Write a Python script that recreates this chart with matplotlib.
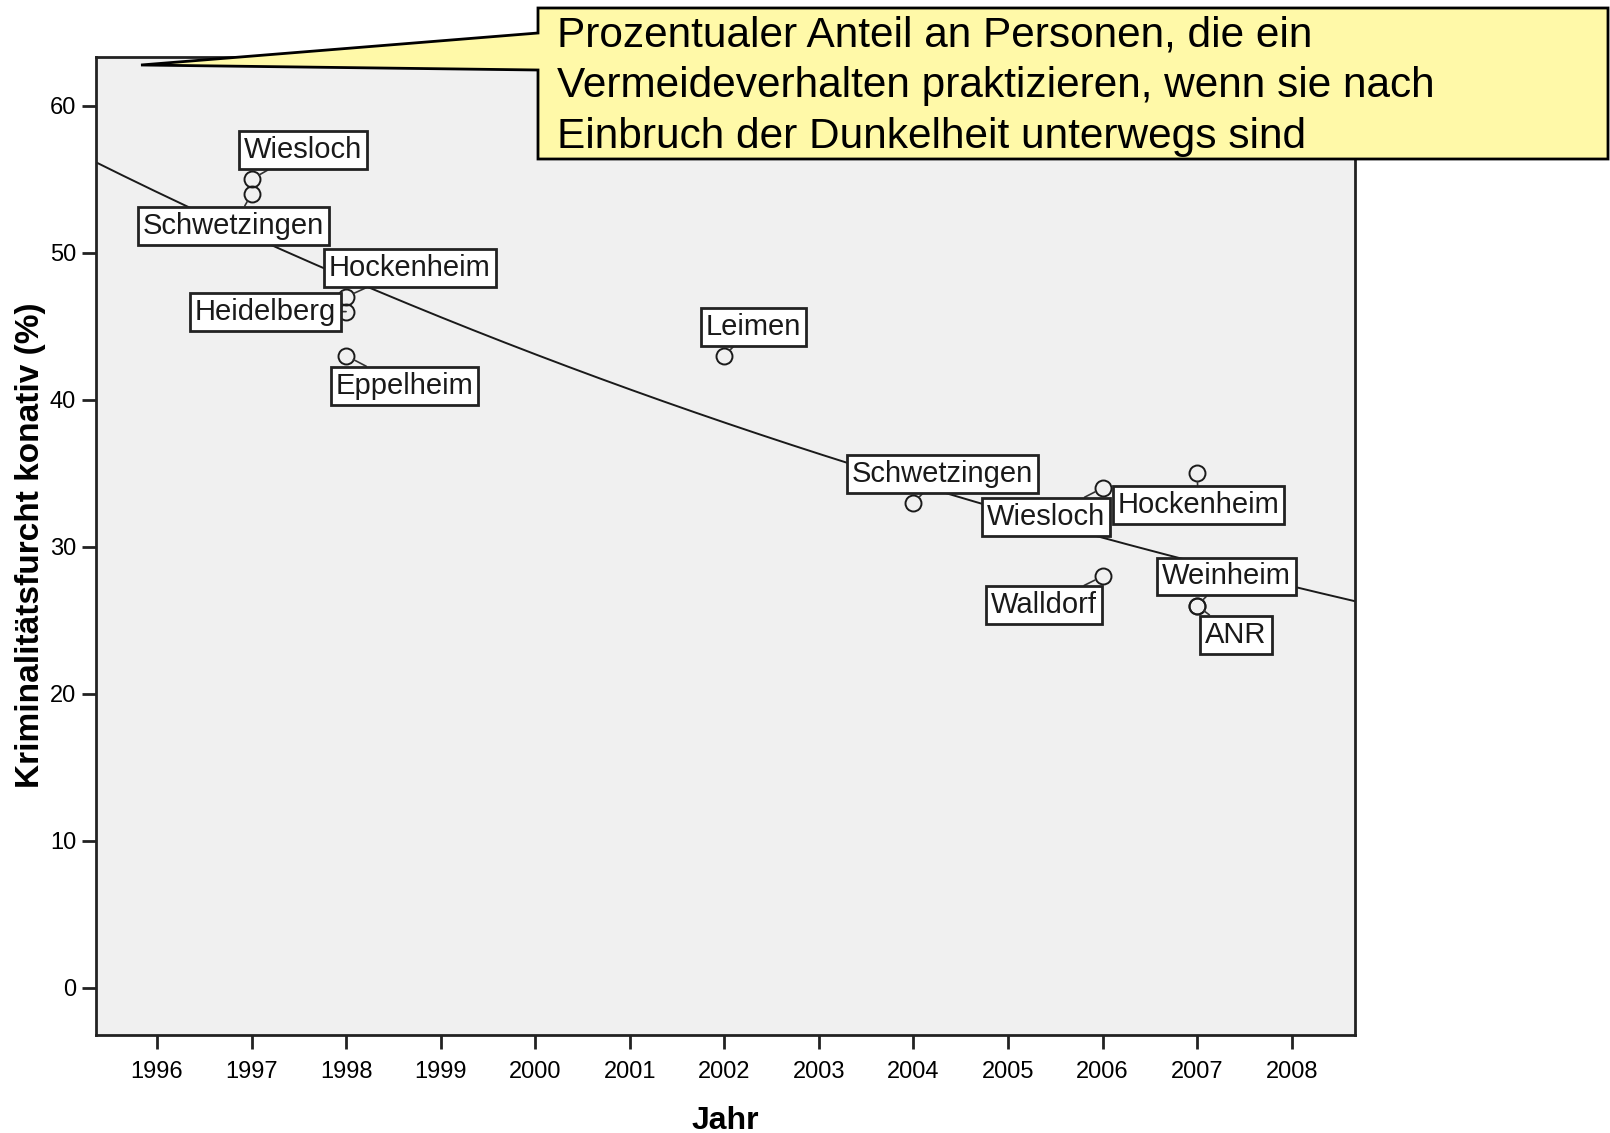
import numpy as np
import matplotlib.pyplot as plt
from matplotlib.patches import Polygon

plt.rcParams['font.family'] = ['Liberation Sans', 'DejaVu Sans']

# data
orte = ['Wiesloch', 'Schwetzingen', 'Hockenheim', 'Heidelberg', 'Eppelheim', 'Leimen',
        'Schwetzingen', 'Wiesloch', 'Walldorf', 'Hockenheim', 'Weinheim', 'ANR']
jahr = [1997, 1997, 1998, 1998, 1998, 2002, 2004, 2006, 2006, 2007, 2007, 2007]
furcht = [55, 54, 47, 46, 43, 43, 33, 34, 28, 35, 26, 26]
xticks = list(range(1996, 2009))
yticks = [0, 10, 20, 30, 40, 50, 60]

# label offsets (points) relative to each point
offsets = [(37, 21), (-13, -23), (46, 21), (-58, 0), (42, -22), (21, 21),
           (21, 21), (-41, -21), (-42, -21), (1, -23), (21, 21), (28, -21)]

W, H = 1610, 1133
fig = plt.figure(figsize=(W / 100, H / 100), dpi=100)
ax = fig.add_axes([95.5 / W, 1 - 1035 / H, (1355 - 95.5) / W, (1035 - 56.5) / H])
ax.set_facecolor('#f0f0f0')

# exponential fit
x = np.array(jahr, dtype=float)
y = np.array(furcht, dtype=float)
b, a = np.polyfit(x - 1996, np.log(y), 1)
xs = np.linspace(1995.3, 2008.7, 200)
ax.plot(xs, np.exp(a + b * (xs - 1996)), color='#1a1a1a', lw=1.4, zorder=2)

ax.plot(jahr, furcht, 'o', mfc='none', mec='#1a1a1a', ms=11.5, mew=1.4, zorder=3)

for name, xx, yy, off in zip(orte, jahr, furcht, offsets):
    ax.annotate(name, (xx, yy), xytext=off, textcoords='offset points',
                ha='center', va='center', fontsize=21, color='#1a1a1a',
                bbox=dict(boxstyle='square,pad=0.17', fc='white', ec='#222222', lw=2),
                arrowprops=dict(arrowstyle='-', color='#333333', lw=1.2, shrinkA=0, shrinkB=6),
                zorder=4)

ax.set_xlim(1995.35, 2008.67)
ax.set_ylim(-3.2, 63.35)
ax.set_xticks(xticks)
ax.set_yticks(yticks)
ax.tick_params(labelsize=17, length=10, width=2, direction='out', color='#222222')
ax.tick_params(axis='x', pad=9)
ax.tick_params(axis='y', pad=4)
for s in ax.spines.values():
    s.set_linewidth(2)
    s.set_color('#222222')
ax.set_xlabel('Jahr', fontsize=23, fontweight='bold', labelpad=16)
ax.set_ylabel('Kriminalitätsfurcht konativ (%)', fontsize=24, fontweight='bold', labelpad=3)

# callout box with pointer
pts = [(538, 8), (1608, 8), (1608, 159), (538, 159), (538, 70), (141, 65), (538, 33)]
poly = Polygon([(px / W, 1 - py / H) for px, py in pts], closed=True,
               transform=fig.transFigure, fc='#fff9a8', ec='black', lw=2, zorder=10)
fig.patches.append(poly)
zeilen = ['Prozentualer Anteil an Personen, die ein',
          'Vermeideverhalten praktizieren, wenn sie nach',
          'Einbruch der Dunkelheit unterwegs sind']
for i, z in enumerate(zeilen):
    fig.text(557 / W, 1 - (35 + 51 * i) / H, z, fontsize=30.5, va='center', ha='left', zorder=11)

fig.savefig('out.png', dpi=100)
